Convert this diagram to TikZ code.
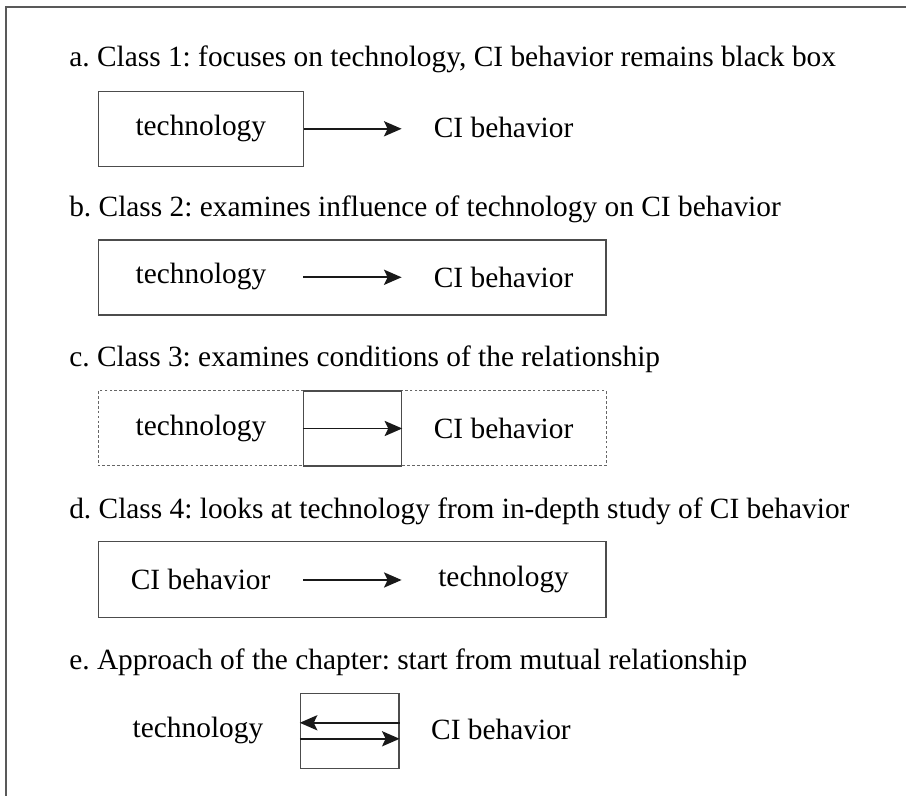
\documentclass[tikz,border=0pt]{standalone}
\usepackage{fontspec}
\setmainfont{Liberation Serif}
\usetikzlibrary{arrows.meta}
\frenchspacing

\tikzset{
    box/.style={draw=black!70, line width=0.9pt},
    dashbox/.style={draw=black!60, line width=0.7pt, dash pattern=on 2pt off 1.5pt},
    lbl/.style={inner sep=0pt, text height=14.3pt, text depth=4.5pt, anchor=base},
    heading/.style={inner sep=0pt, anchor=base west},
    arr/.style={->, draw=black!90, line width=1.15pt}
}

\begin{document}
\begin{tikzpicture}[>={Stealth[length=4.4mm,width=3.8mm,inset=0.9mm]}, font=\fontsize{20.9}{25}\selectfont]
        \useasboundingbox (0,0) rectangle (22.65,19.9);
        \draw[draw=black!65, line width=1pt] (0.15,0) -- (0.15,19.725) -- (22.65,19.725);

        \node[heading] (headA) at (1.725,18.2325) {a. Class 1: focuses on technology, CI behavior remains black box};
        \node[heading] (headB) at (1.725,14.4825) {b. Class 2: examines influence of technology on CI behavior};
        \node[heading] (headC) at (1.725,10.7325) {c. Class 3: examines conditions of the relationship};
        \node[heading] (headD) at (1.725,6.9425) {d. Class 4: looks at technology from in-depth study of CI behavior};
        \node[heading] (headE) at (1.725,3.15) {e. Approach of the chapter: start from mutual relationship};

        \node[box, minimum width=5.1275cm, minimum height=1.875cm, text height=14.3pt, text depth=4.5pt] (techA) at (5.02,16.68) {technology};
        \node[lbl] (ciA) at (12.59,16.4675) {CI behavior};
        \coordinate (tipA) at (10.04,16.68);
        \draw[arr] (techA) -- (tipA);

        \draw[box] (2.4575,13.9) rectangle (15.15,12.025);
        \node[lbl] (techB) at (5.025,12.8175) {technology};
        \node[lbl] (ciB) at (12.59,12.7075) {CI behavior};
        \coordinate (tailB) at (7.585,12.9675);
        \coordinate (tipB) at (10.04,12.9675);
        \draw[arr] (tailB) -- (tipB);

        \draw[dashbox] (2.4575,10.125) rectangle (15.15,8.25);
        \node[box, minimum width=2.455cm, minimum height=1.875cm] (linkC) at (8.8125,9.1875) {};
        \node[lbl] (techC) at (5.025,9.0) {technology};
        \node[lbl] (ciC) at (12.59,8.9425) {CI behavior};
        \draw[arr] (linkC.west) -- (linkC.east);

        \draw[box] (2.4575,6.3575) rectangle (15.15,4.4675);
        \node[lbl] (ciD) at (5.016,5.15) {CI behavior};
        \node[lbl] (techD) at (12.59,5.2325) {technology};
        \coordinate (tailD) at (7.585,5.4);
        \coordinate (tipD) at (10.04,5.4);
        \draw[arr] (tailD) -- (tipD);

        \node[box, minimum width=2.465cm, minimum height=1.875cm] (linkE) at (8.7425,1.63) {};
        \node[lbl] (techE) at (4.95,1.4675) {technology};
        \node[lbl] (ciE) at (12.525,1.4175) {CI behavior};
        \draw[arr] ([yshift=2mm]linkE.east) -- ([yshift=2mm]linkE.west);
        \draw[arr] ([yshift=-2mm]linkE.west) -- ([yshift=-2mm]linkE.east);
\end{tikzpicture}
\end{document}
